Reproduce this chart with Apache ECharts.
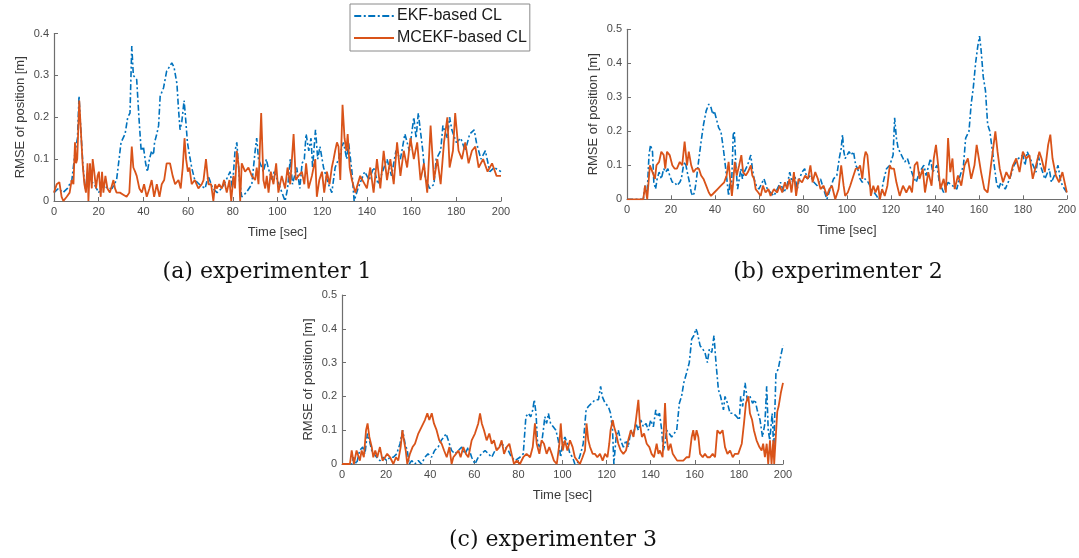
<!DOCTYPE html>
<html>
<head>
<meta charset="utf-8">
<script src="https://cdn.jsdelivr.net/npm/echarts@6/dist/echarts.min.js"></script>
<style>
  html, body { margin: 0; padding: 0; background: #fff; }
  #chart { width: 1079px; height: 558px; }
</style>
</head>
<body>
<div id="chart"></div>
<script>
// [time (s), RMSE (m)] pairs
const ekfA = [[0,.02],[2,.03],[4,.02],[6,.03],[8,.05],[9.5,.12],[10.5,.15],[11.2,.25],[12,.17],[13,.08],[14,.03],[16,.05],[18,.04],[20,.02],[22,.04],[24,.03],[26,.03],[28,.05],[30,.14],[31.8,.16],[33,.2],[34,.21],[34.8,.37],[35.5,.3],[37,.29],[38,.2],[39,.12],[40,.13],[41,.09],[41.8,.07],[42.7,.1],[43.7,.12],[44.5,.11],[45,.14],[46,.16],[46.8,.18],[47.5,.25],[49,.27],[50.4,.31],[51.6,.32],[52.7,.33],[53.7,.32],[55,.28],[55.7,.22],[56.4,.17],[57.2,.19],[58.2,.24],[58.7,.21],[59.7,.14],[60.3,.12],[61.6,.08],[63,.05],[65,.04],[67.6,.03],[69,.06],[71,.03],[73,.02],[75,.03],[77,.05],[78.8,.07],[79.8,.03],[81,.12],[81.8,.14],[83,.05],[84,.01],[86,.02],[88.5,.04],[90,.12],[90.7,.15],[91.5,.1],[93.7,.07],[95,.1],[95.8,.08],[97.5,.05],[98.5,.07],[100,.05],[102,.02],[103.4,0],[104.5,.03],[105.7,.1],[106.7,.04],[108.6,.08],[110,.03],[111,.09],[112,.1],[112.8,.16],[114,.12],[115,.15],[115.7,.08],[117,.17],[118,.1],[119,.13],[120.6,.08],[122.8,.04],[124.3,.02],[125.8,.08],[127.3,.1],[129.5,.14],[131,.1],[131.8,.14],[133.3,.07],[134.3,0],[136,.03],[139,.07],[141,.05],[143,.08],[145,.04],[147,.07],[149,.1],[151,.06],[153,.12],[155,.1],[157,.16],[159,.12],[161,.2],[162,.15],[163,.21],[165,.12],[166,.06],[168,.03],[170,.04],[171,.1],[173,.12],[174,.18],[176,.15],[177,.2],[178,.17],[180,.14],[182,.15],[184,.12],[186,.16],[188,.17],[189,.14],[191,.1],[193,.12],[195,.07],[197,.08],[200,.07]];
const mcekfA = [[0,.02],[1.2,.04],[2.4,.045],[3.4,.01],[4.2,0],[5.7,.01],[7,.02],[7.9,.05],[8.7,.04],[9.4,.14],[9.9,.09],[10.4,.1],[11.3,.24],[12,.17],[12.8,.09],[13.6,.04],[14.3,.02],[15,.09],[15.4,0],[16.1,.09],[16.9,.03],[17.3,.1],[18,.07],[18.8,.03],[19.5,.06],[20.1,.07],[20.9,.01],[21.5,.07],[22.1,.02],[23,.06],[23.9,.03],[25,.02],[26.6,.05],[27.3,.03],[28,.02],[29.5,.02],[31,.015],[32.5,.01],[33.7,.02],[34.8,.13],[35.5,.08],[36.3,.07],[37,.06],[38.2,.03],[39.3,.02],[40.3,.04],[41.5,.01],[42.7,.03],[43.7,.05],[44.8,.01],[46,.04],[47.2,.01],[48.2,.04],[49.3,.05],[50.4,.09],[51.9,.09],[53.1,.06],[54.2,.04],[55.7,.05],[56.7,.03],[57.6,.08],[58.4,.15],[59.1,.1],[59.9,.07],[60.6,.08],[61.6,.04],[63,.05],[64.6,.03],[66.1,.04],[66.9,.05],[68,.1],[69.1,.04],[70.3,.04],[71.3,0],[72.1,.04],[72.8,.03],[73.9,.04],[75.1,.03],[76.1,.05],[77.3,.02],[78.5,.05],[79.3,0],[80.3,.06],[81,.03],[81.8,.12],[82.7,.08],[83.3,0],[84,.09],[85.5,.07],[87,.08],[88.5,.06],[90,.05],[90.7,.08],[91.5,.04],[92.7,.21],[93.7,.05],[94.5,.03],[95.2,.06],[96,.02],[97,.07],[98.2,.04],[99.4,.09],[100.4,.02],[101.9,.06],[103.4,.03],[104.5,.08],[105.7,.04],[107.2,.16],[108.2,.05],[109.4,.06],[110.9,.07],[112,.04],[112.8,.09],[113.9,.03],[115.4,.06],[116.9,.1],[117.6,.01],[118.7,.05],[119.9,.07],[120.9,.02],[122.1,.07],[123.3,.04],[124.3,.08],[125.1,.1],[125.8,.12],[126.6,.14],[127.3,.13],[128.1,.05],[129.1,.23],[130,.15],[130.8,.12],[131.4,.16],[132.3,.08],[133.3,.05],[134.8,.02],[135.4,.02],[137,.06],[140,.03],[141.5,.08],[143,.02],[144.5,.1],[146,.03],[147.5,.12],[149,.05],[150.5,.1],[152,.04],[153.5,.14],[155,.06],[156.5,.12],[158,.08],[159.5,.15],[161,.1],[162.5,.14],[164,.05],[165.5,.09],[167,.02],[168.5,.18],[170,.05],[171.5,.1],[173,.04],[174.5,.14],[176,.2],[177,.08],[178.5,.12],[179.5,.21],[181,.12],[182.5,.1],[184,.14],[185.5,.09],[187,.12],[188.5,.13],[190,.08],[192,.1],[194,.07],[196,.09],[198,.06],[200,.06]];

const ekfB = [[0,0],[7.4,0],[8.2,.04],[9.2,.02],[10,.13],[10.7,.16],[11.6,.14],[12.2,.05],[13,.03],[13.7,.06],[14.6,.08],[15.6,.06],[16.7,.09],[17.6,.08],[18.6,.09],[19.4,.07],[20.6,.05],[21.7,.05],[22.7,.04],[24,.05],[24.7,.06],[25.7,.1],[26.5,.11],[27.4,.08],[28.4,.05],[29.2,.02],[29.9,.01],[30.7,.02],[31.4,.05],[32.7,.12],[33.7,.17],[34.8,.22],[36,.26],[37.2,.28],[38.2,.27],[39,.25],[39.7,.26],[40.5,.24],[41.7,.21],[42.7,.2],[43.8,.15],[44.7,.1],[45.4,.06],[46.2,.01],[46.8,.05],[47.5,.03],[48.3,.19],[48.8,.2],[49.5,.1],[50.3,.03],[51,.03],[51.8,.09],[52.5,.06],[53.3,.08],[54.8,.1],[56.3,.13],[57,.09],[57.8,.06],[58.8,.04],[60,.03],[61.5,.05],[62.3,.06],[63.8,.03],[65.3,.02],[66.8,.01],[68.3,.03],[69.8,.05],[71.3,.02],[72.8,.04],[74,.08],[75.1,.05],[76.3,.07],[77.4,.03],[78.4,.06],[79.6,.08],[80.8,.09],[81.9,.06],[83.4,.07],[85,.05],[86.5,.04],[88,.06],[89.4,.03],[90.9,0],[92.4,.03],[93.9,.06],[95.4,.07],[96.5,.12],[97.4,.15],[98,.19],[98.6,.14],[99.2,.12],[100.1,.13],[101,.14],[101.9,.13],[103,.14],[104,.1],[104.9,.09],[106,.06],[107,.05],[108.2,.06],[109.7,.05],[111.2,.03],[112.4,.02],[113.5,.01],[114.5,0],[115.7,.02],[116.5,.05],[118,.09],[119.5,.1],[121,.13],[121.7,.24],[122.5,.18],[123.3,.15],[124.8,.13],[126.3,.11],[127.5,.12],[128.5,.1],[130,.07],[131.5,.05],[133,.08],[135,.1],[136,.07],[138,.12],[139,.08],[141,.1],[142,.05],[144,.02],[146,.05],[148,.04],[150,.03],[151,.06],[153,.1],[154,.18],[155.5,.2],[156.5,.28],[157.5,.33],[158.5,.4],[159.5,.45],[160.3,.48],[161,.44],[162,.36],[163,.32],[164,.22],[165,.2],[166,.15],[167,.1],[168,.05],[169,.03],[170,.05],[172,.03],[174,.06],[176,.1],[178,.12],[180,.13],[181,.1],[182,.14],[184,.11],[186,.08],[187,.13],[188,.1],[190,.06],[192,.09],[193,.05],[195,.08],[196,.1],[197,.06],[198,.04],[200,.02]];
const mcekfB = [[0,0],[7.4,0],[8.2,.04],[9.2,0],[10.4,.1],[11.6,.08],[12.7,.06],[13.4,.1],[14.6,.11],[15.6,.14],[16.7,.13],[17.4,.09],[18.2,.14],[19.4,.13],[20.6,.1],[21.7,.09],[22.7,.09],[24,.11],[25.1,.1],[26.2,.17],[27.3,.1],[28.1,.14],[29.2,.1],[30.2,.08],[31.4,.09],[32.7,.09],[33.7,.07],[34.8,.06],[36,.04],[37.2,.02],[38.2,.01],[39.7,.02],[41.2,.03],[42.7,.04],[44.2,.05],[45.3,.07],[46.2,.11],[46.9,.06],[47.7,.01],[48.3,.05],[49,.11],[49.9,.07],[51,.1],[52,.13],[52.8,.08],[54,.07],[55,.08],[56.3,.1],[57,.07],[57.8,.06],[58.5,.03],[59.7,.02],[60.8,.01],[61.8,.04],[63,.02],[64.3,.03],[65.3,.01],[66.8,.03],[68.3,.02],[69.4,.04],[70.6,.02],[71.8,.05],[72.8,.03],[73.9,.06],[74.8,.02],[75.9,.08],[76.9,.01],[78,.06],[79.6,.05],[81,.07],[82.3,.06],[83.4,.1],[84.4,.05],[85.6,.08],[86.8,.06],[88,.03],[89.4,.04],[90.9,.01],[92,.03],[93.2,.04],[94.7,0],[96.2,.03],[97.4,.1],[98.5,.04],[99.2,.01],[100.4,.02],[101.5,.04],[103,.07],[104,.09],[105.2,.09],[106,.1],[107,.06],[107.9,.12],[108.5,.14],[109.3,.13],[110,.08],[110.9,.01],[112,.04],[113,.02],[114.2,.04],[115,0],[116,.03],[117.2,.01],[118.4,.04],[119.5,.1],[120.2,.09],[121.4,.09],[122.5,.05],[124,.01],[125.5,.04],[127,.02],[128.5,.04],[129.6,.02],[130.8,.1],[132,.11],[133,.06],[134.5,.09],[135.5,.02],[137,.08],[138.5,.04],[139.5,.12],[140.5,.16],[141.5,.1],[142.5,.03],[144,.06],[145,.02],[146,.18],[147,.08],[148,.12],[149,.03],[150.5,.07],[152,.04],[153.5,.1],[155,.12],[156.5,.06],[158,.1],[159,.16],[160,.12],[161,.08],[162.5,.03],[164,.02],[165.5,.1],[166.5,.15],[167.5,.2],[168.5,.14],[169.5,.09],[171,.05],[172.5,.08],[174,.06],[175.5,.1],[177,.12],[178.5,.08],[180,.14],[181.5,.12],[183,.13],[184.5,.06],[186,.1],[187.5,.14],[188.5,.12],[190,.08],[191.5,.16],[192.5,.19],[193.5,.12],[195,.07],[196.5,.05],[198,.08],[200,.02]];

const ekfC = [[0,0],[4.4,0],[5.2,.02],[6.6,0],[8,.04],[9.4,.05],[10.4,.03],[11.5,.09],[12.4,.07],[13.5,.04],[14.6,.03],[15.7,.02],[17.2,.01],[18.7,.02],[20.3,.01],[21.8,.02],[23.3,.02],[24.8,.03],[26.3,.06],[27.5,.1],[28.6,.06],[29.6,.04],[30.5,0],[31.6,.01],[33,0],[34.6,.01],[36,0],[37.6,.02],[39,.03],[40.6,.02],[42,.04],[43.6,.05],[45,.07],[46.3,.08],[47.2,.09],[48.2,.07],[49.7,.04],[51.2,.03],[52.8,.04],[54.3,.05],[55.8,.03],[57.3,.05],[58.8,.02],[60.3,0],[61.8,.02],[63.3,.03],[64.9,.04],[66.4,.03],[67.9,.02],[69.4,.04],[70.9,.05],[72.4,.06],[73.9,.05],[75.4,.04],[76.9,.02],[78.5,.01],[80.7,.02],[82.2,.03],[83.4,.14],[84.5,.15],[85.6,.14],[86.5,.16],[87.2,.19],[88,.15],[88.6,.07],[89.5,.05],[90.5,.06],[91.3,.1],[92,.14],[92.8,.12],[93.6,.15],[94.6,.12],[95.8,.11],[97,.1],[98.1,.07],[99.2,.02],[100,.06],[101.1,.08],[102.2,.06],[103.4,.03],[104.6,.02],[105.6,0],[106.7,0],[108.2,.03],[109.4,.06],[110.7,.16],[111.7,.17],[113.2,.18],[114.8,.19],[116.3,.19],[117.3,.23],[118,.2],[119.3,.18],[120.8,.17],[121.8,.15],[122.7,.1],[123.3,0],[124.3,.08],[125.3,.1],[126.4,.07],[127.6,.05],[128.8,.07],[129.8,.05],[131,.1],[132.2,.09],[133.3,.12],[134.4,.1],[135.5,.13],[136.7,.11],[137.9,.12],[138.9,.1],[140,.13],[141.2,.11],[142.3,.16],[143,.14],[144,.15],[145,.1],[145.7,.04],[146.5,.06],[147.2,.1],[148.4,.09],[149.5,.08],[150.6,.09],[151.8,.1],[153,.18],[154,.2],[155,.24],[156.3,.27],[157.5,.3],[158.6,.37],[159.6,.38],[160.5,.4],[161.1,.39],[162.4,.35],[163.6,.34],[164.6,.33],[165.7,.3],[166.6,.34],[167.7,.33],[168.7,.38],[169.6,.3],[170.7,.22],[171.7,.2],[173,.16],[173.7,.2],[174.8,.18],[176,.15],[177.5,.15],[179,.14],[180.2,.13],[180.8,.2],[181.7,.17],[182.8,.24],[183.8,.19],[185,.2],[186.2,.18],[187.3,.19],[188.3,.16],[189.6,.13],[190.7,.08],[191.8,.12],[192.6,.23],[193.3,.1],[194,.07],[195.1,.15],[195.8,.04],[196.8,.27],[197.8,.28],[199,.32],[200,.35]];
const mcekfC = [[0,0],[3.6,0],[4.4,.04],[5.4,0],[6.6,.04],[8.1,.01],[8.9,.04],[9.9,.02],[10.9,.1],[11.6,.12],[12.4,.08],[13.5,.05],[14.2,.02],[15.1,.04],[16,.02],[17.2,.05],[18.4,.01],[19.5,.02],[20.5,.03],[21.8,.02],[23.3,0],[24.5,.02],[25.5,.01],[26.6,.05],[27.4,.1],[28.1,.07],[28.9,.04],[29.6,0],[30.8,.03],[32,.05],[33.1,.06],[34.6,.09],[36.1,.11],[37.6,.13],[38.7,.15],[39.6,.13],[40.7,.15],[41.7,.12],[42.9,.1],[44.1,.07],[45.2,.06],[46.3,.04],[47.5,.02],[48.7,.05],[49.7,0],[50.5,.02],[51.7,.03],[52.8,.04],[53.8,.02],[55,.05],[56.2,.03],[57.3,.02],[58.8,.07],[60.3,.09],[61.8,.12],[62.6,.15],[63.4,.12],[64.4,.1],[65.6,.07],[66.8,.09],[67.9,.06],[68.9,.07],[70.1,.04],[71.4,.05],[72.4,.07],[73.5,.03],[74.7,.05],[75.9,.06],[76.9,.03],[78,0],[79.2,.01],[80.7,0],[82.2,.02],[83.7,.03],[85.3,.02],[86.5,.05],[87.5,.12],[88.3,.06],[89.5,.03],[90.5,.07],[91.6,.06],[92.8,.03],[94,.05],[95.1,.03],[96.1,.01],[97.4,0],[98.6,.06],[99.2,.12],[100.1,.04],[101.1,.07],[102.2,.04],[103.4,.07],[104.6,.05],[105.6,.02],[106.7,.01],[107.9,0],[109.1,.02],[110.2,.04],[110.9,.12],[111.7,.07],[112.5,.05],[113.7,.03],[114.7,.03],[115.8,.02],[117,.03],[118.2,.01],[119.3,.03],[120.4,.02],[121.2,.06],[121.8,.1],[122.8,.13],[123.4,.11],[124.3,.09],[125.3,.06],[126.4,.04],[127.6,.03],[128.8,.04],[129.8,.07],[131,.1],[132.2,.08],[133.3,.13],[134.4,.19],[135.1,.12],[136,.08],[137,.09],[138.2,.06],[139.4,.05],[140.4,.03],[141.5,.02],[142.7,.06],[143.5,.03],[144.2,.04],[145.4,.02],[146.5,.18],[147.2,.08],[148,.04],[149,.06],[150,.03],[151,.02],[152,.01],[153.2,.01],[154.8,.01],[156.3,.02],[157.5,.02],[158.6,.08],[159.3,.1],[160,.07],[160.8,.1],[161.6,.08],[162.4,.03],[163.6,.02],[164.6,.03],[165.7,.02],[166.9,.02],[168.1,.03],[169.2,.02],[170.2,.1],[171.4,.09],[172.6,.1],[173.7,.05],[174.8,.03],[176,.04],[177.2,.02],[178.2,.03],[179.7,.03],[181.3,.06],[182.3,.12],[183.2,.18],[184.3,.2],[185,.15],[186,.13],[186.8,.1],[188,.07],[189.3,.05],[190.3,.04],[191,.06],[191.8,.02],[192.6,.06],[193.3,0],[194.1,.07],[194.8,0],[195.6,.07],[196,0],[197.4,.155],[198,.17],[199,.21],[200,.24]];

const seriesNames = ['EKF-based CL', 'MCEKF-based CL'];
const yMax = [0.4, 0.5, 0.5];
const captions = ['(a) experimenter 1', '(b) experimenter 2', '(c) experimenter 3'];

const BLUE = '#0072BD';
const ORANGE = '#D95319';
const AX = '#6e6e6e';
const FONT = 'Liberation Sans, Arial, sans-serif';

const grids = [
  { left: 54, top: 33.5, width: 447, height: 167.5 },
  { left: 627, top: 29.3, width: 443, height: 170 },
  { left: 342, top: 295, width: 441, height: 169 }
];

function xAxisFor(i) {
  return {
    type: 'value', gridIndex: i, min: 0, max: 200, interval: 20,
    name: 'Time [sec]', nameLocation: 'middle', nameGap: 25,
    nameTextStyle: { fontFamily: FONT, fontSize: 13, color: '#3a3a3a' },
    axisLine: { lineStyle: { color: AX, width: 1.2 } },
    axisTick: { inside: true, length: 4, lineStyle: { color: AX } },
    axisLabel: { fontFamily: FONT, fontSize: 11, color: '#4a4a4a', margin: 5 },
    splitLine: { show: false }
  };
}

function yAxisFor(i) {
  return {
    type: 'value', gridIndex: i, min: 0, max: yMax[i], interval: 0.1,
    name: 'RMSE of position [m]', nameLocation: 'middle', nameGap: 27,
    nameTextStyle: { fontFamily: FONT, fontSize: 13, color: '#3a3a3a' },
    axisLine: { lineStyle: { color: AX, width: 1.2 } },
    axisTick: { inside: true, length: 4, lineStyle: { color: AX } },
    axisLabel: { fontFamily: FONT, fontSize: 11, color: '#4a4a4a', margin: 5 },
    splitLine: { show: false }
  };
}

function lineSeries(name, data, i, color, dashed) {
  return {
    name, type: 'line', data, xAxisIndex: i, yAxisIndex: i,
    symbol: 'none', showSymbol: false, animation: false,
    lineStyle: { color, width: dashed ? 1.6 : 1.8, type: dashed ? [6, 2.5, 2, 2.5] : 'solid' },
    itemStyle: { color }
  };
}

const pairs = [[ekfA, mcekfA], [ekfB, mcekfB], [ekfC, mcekfC]];
const series = [];
pairs.forEach((p, i) => {
  series.push(lineSeries(seriesNames[0], p[0], i, BLUE, true));
  series.push(lineSeries(seriesNames[1], p[1], i, ORANGE, false));
});

// legend swatches drawn as line samples (dash-dot and solid)
const dashDotIcon = 'path://M0,0h7v2h-7z M9.5,0h2v2h-2z M14,0h7v2h-7z M23.5,0h2v2h-2z M28,0h7v2h-7z M37.5,0h2v2h-2z';
const solidIcon = 'path://M0,0h40v2h-40z';

const captionPos = [[267, 272], [838, 272], [553, 540]];

const chart = echarts.init(document.getElementById('chart'), null, { renderer: 'canvas' });
chart.setOption({
  backgroundColor: '#fff',
  animation: false,
  grid: grids,
  xAxis: [0, 1, 2].map(xAxisFor),
  yAxis: [0, 1, 2].map(yAxisFor),
  legend: {
    data: [
      { name: seriesNames[0], icon: dashDotIcon },
      { name: seriesNames[1], icon: solidIcon }
    ],
    orient: 'vertical', left: 350, top: 4,
    itemWidth: 42, itemHeight: 2, itemGap: 4,
    padding: [3, 3, 4, 4],
    borderColor: '#8a8a8a', borderWidth: 1, backgroundColor: '#fff',
    textStyle: { fontFamily: FONT, fontSize: 16, color: '#1a1a1a', lineHeight: 18, padding: [0, 0, 0, -3] }
  },
  series,
  graphic: captions.map((c, i) => ({
    type: 'text', x: captionPos[i][0], y: captionPos[i][1],
    style: { text: c, fill: '#111', font: '22px "DejaVu Serif", serif', textAlign: 'center', textVerticalAlign: 'middle' }
  }))
});
</script>
</body>
</html>
